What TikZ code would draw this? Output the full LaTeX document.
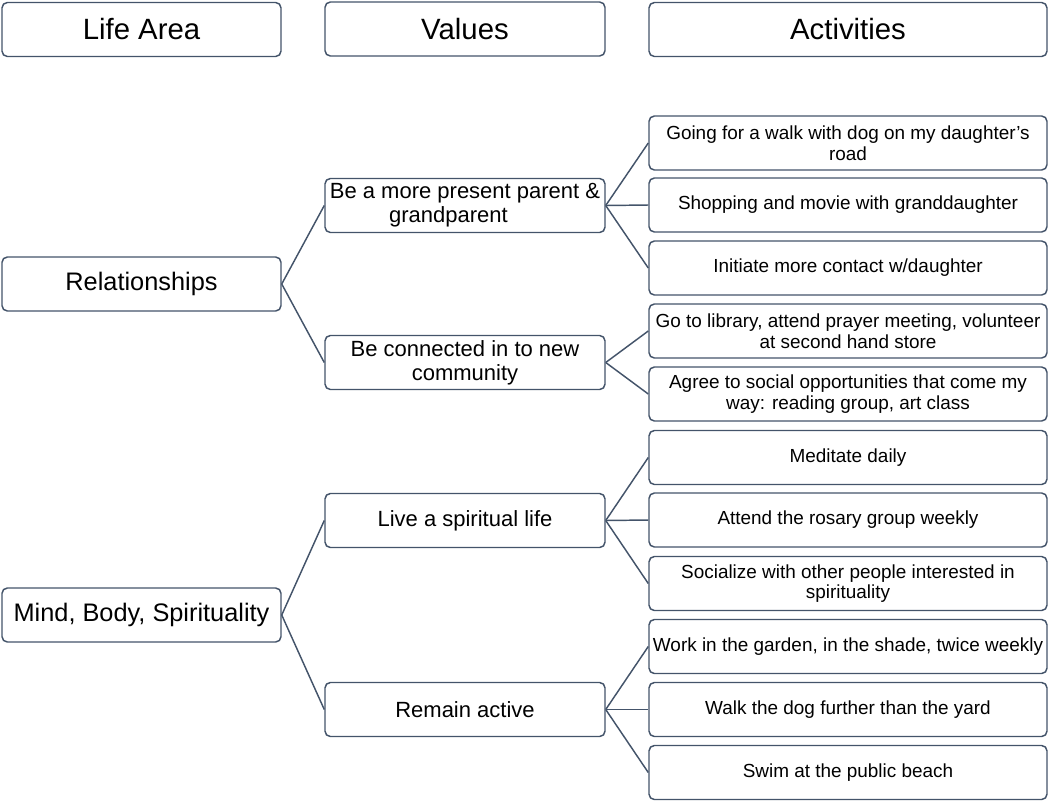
\documentclass[tikz,border=0pt]{standalone}
\usepackage{fontspec}
\setmainfont{Liberation Sans}
\begin{document}
\begin{tikzpicture}[x=0.75pt,y=-0.75pt]
% ----- columns (x) & rows (y), in px of the sheet -----
\def\xArea{141.5}
\def\xVal{465}
\def\xAct{848}

\def\wArea{279}
\def\wVal{280}
\def\wAct{398}
\def\hBox{54}

% styles
\definecolor{slate}{HTML}{44546A}
\tikzset{
  box/.style={draw=slate,line width=1.1pt,rounded corners=4pt,fill=white,
    minimum height=\hBox*0.75pt,inner sep=1.5pt,align=center},
  hdrbox/.style={box,font=\fontsize{22}{25}\selectfont},
  areabox/.style={box,minimum width=\wArea*0.75pt,font=\fontsize{19}{22}\selectfont},
  valbox/.style={box,minimum width=\wVal*0.75pt,font=\fontsize{16.5}{18}\selectfont},
  actbox/.style={box,minimum width=\wAct*0.75pt,font=\fontsize{14.2}{15.5}\selectfont},
  conn/.style={draw=slate,line width=1.1pt}
}

\useasboundingbox (0,0) rectangle (1050,801);

% ----- headers -----
\node[hdrbox,minimum width=\wArea*0.75pt] (hdrArea) at (\xArea,29.5) {Life Area};
\node[hdrbox,minimum width=\wVal*0.75pt] (hdrVal) at (\xVal,29) {Values};
\node[hdrbox,minimum width=\wAct*0.75pt] (hdrAct) at (\xAct,29.5) {Activities};

% ===== life areas =====
\node[areabox] (relat) at (\xArea,284) {Relationships};
\node[areabox] (mind) at (\xArea,615) {Mind, Body, Spirituality};

% ===== values =====
\node[valbox] (vParent) at (\xVal,205.5) {Be a more present parent \&\\grandparent\hspace*{1.5em}};
\node[valbox] (vComm) at (\xVal,362.5) {Be connected in to new\\community};
\node[valbox] (vSpirit) at (\xVal,520.5) {Live a spiritual life};
\node[valbox] (vActive) at (\xVal,709.5) {Remain active};

% ===== activities =====
\node[actbox] (aDogRoad) at (\xAct,143) {Going for a walk with dog on my daughter’s\\road};
\node[actbox] (aShop) at (\xAct,205) {Shopping and movie with granddaughter};
\node[actbox] (aContact) at (\xAct,268) {Initiate more contact w/daughter};
\node[actbox] (aLibrary) at (\xAct,331) {Go to library, attend prayer meeting, volunteer\\at second hand store};
\node[actbox] (aSocial) at (\xAct,394) {Agree to social opportunities that come my\\way: reading group, art class};
\node[actbox] (aMeditate) at (\xAct,457.5) {Meditate daily};
\node[actbox] (aRosary) at (\xAct,520) {Attend the rosary group weekly};
\node[actbox] (aPeople) at (\xAct,583.5) {Socialize with other people interested in\\spirituality};
\node[actbox] (aGarden) at (\xAct,646.5) {Work in the garden, in the shade, twice weekly};
\node[actbox] (aWalkDog) at (\xAct,709.5) {Walk the dog further than the yard};
\node[actbox] (aBeach) at (\xAct,772.5) {Swim at the public beach};

% ----- connectors: area -> values -----
\draw[conn] (relat.east) -- (vParent.west);
\draw[conn] (relat.east) -- (vComm.west);
\draw[conn] (mind.east) -- (vSpirit.west);
\draw[conn] (mind.east) -- (vActive.west);

% ----- connectors: values -> activities -----
\draw[conn] (vParent.east) -- (aDogRoad.west);
\draw[conn] (vParent.east) -- (aShop.west);
\draw[conn] (vParent.east) -- (aContact.west);
\draw[conn] (vComm.east) -- (aLibrary.west);
\draw[conn] (vComm.east) -- (aSocial.west);
\draw[conn] (vSpirit.east) -- (aMeditate.west);
\draw[conn] (vSpirit.east) -- (aRosary.west);
\draw[conn] (vSpirit.east) -- (aPeople.west);
\draw[conn] (vActive.east) -- (aGarden.west);
\draw[conn] (vActive.east) -- (aWalkDog.west);
\draw[conn] (vActive.east) -- (aBeach.west);
\end{tikzpicture}
\end{document}
